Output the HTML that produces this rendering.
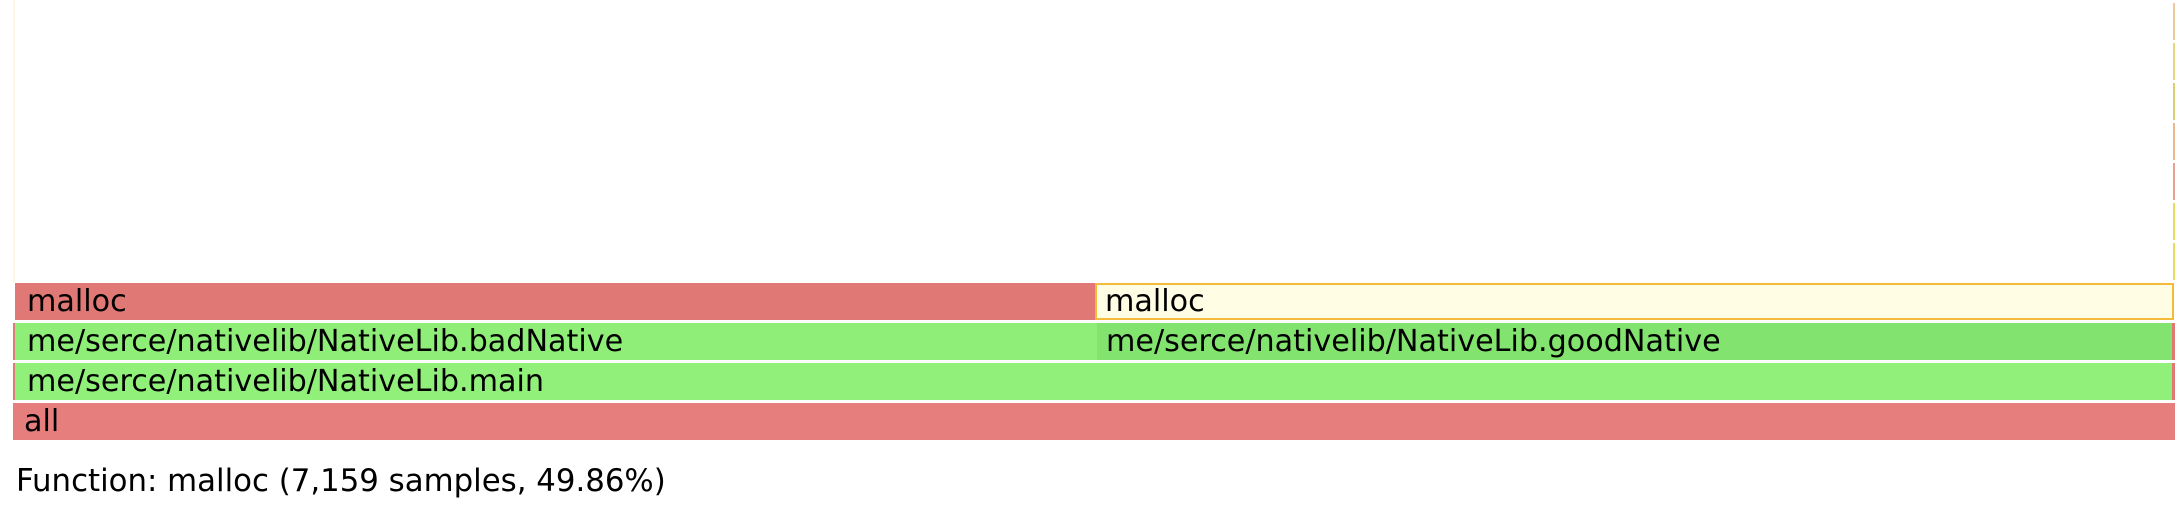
<!DOCTYPE html>
<html><head><style>
body{margin:0;width:2184px;height:530px;background:#fff;position:relative;overflow:hidden;font-family:"DejaVu Sans","Liberation Sans",sans-serif;}
.r{position:absolute;height:37px;font-size:30.2px;line-height:37px;color:#000;white-space:nowrap;overflow:hidden;box-sizing:border-box;}
.s{position:absolute;left:2173px;width:2px;height:37px;}
</style></head><body>
<div style="position:absolute;left:13px;top:0;width:2px;height:283px;background:#fdf7e6"></div>
<div class="s" style="top:3px;background:#eec9a0"></div>
<div class="s" style="top:43px;background:#e3d880"></div>
<div class="s" style="top:83px;background:#d8cf70"></div>
<div class="s" style="top:123px;background:#eab890"></div>
<div class="s" style="top:163px;background:#e8a090"></div>
<div class="s" style="top:203px;background:#e2dd60"></div>
<div class="s" style="top:243px;background:#e2dd60"></div>
<div class="r" style="left:15px;top:283px;width:1080px;background:#e07876;padding-left:12px">malloc</div>
<div class="r" style="left:1095px;top:283px;width:1079px;background:#fffde3;border:2px solid #f4bb3a;padding-left:8px;line-height:33px">malloc</div>
<div class="r" style="left:13px;top:323px;width:2162px;background:#e07876"></div>
<div class="r" style="left:15px;top:323px;width:1082px;background:#8eee78;padding-left:12px">me/serce/nativelib/NativeLib.badNative</div>
<div class="r" style="left:1097px;top:323px;width:1075px;background:#82e36e;padding-left:9px">me/serce/nativelib/NativeLib.goodNative</div>
<div class="r" style="left:13px;top:363px;width:2162px;background:#e07876"></div>
<div class="r" style="left:15px;top:363px;width:2157px;background:#90f07a;padding-left:12px">me/serce/nativelib/NativeLib.main</div>
<div class="r" style="left:13px;top:403px;width:2162px;background:#e57e7c;padding-left:11px">all</div>
<div style="position:absolute;left:16px;top:463px;font-size:30.8px;line-height:36px;white-space:nowrap">Function: malloc (7,159 samples, 49.86%)</div>
</body></html>
